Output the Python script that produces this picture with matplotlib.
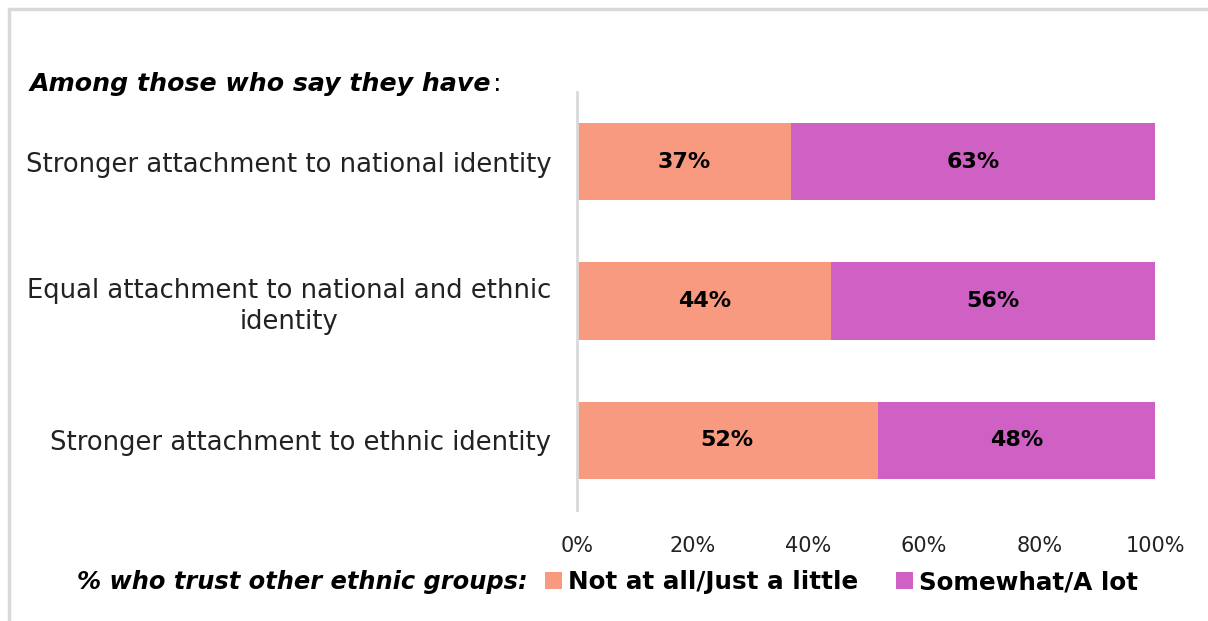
import numpy as np
import matplotlib
matplotlib.use('Agg')
from matplotlib.pyplot import figure
from matplotlib.patches import Rectangle
from matplotlib.ticker import FuncFormatter

# identity groups, top to bottom
groups = ['Stronger attachment to national identity',
          'Equal attachment to national and ethnic\nidentity',
          'Stronger attachment to ethnic identity']
not_at_all = [37, 44, 52]   # Not at all / Just a little
somewhat = [63, 56, 48]     # Somewhat / A lot
series_names = ['Not at all/Just a little', 'Somewhat/A lot']
xticks = [0, 20, 40, 60, 80, 100]

c_low = '#F79A80'
c_high = '#CF61C5'
grey = '#D9D9D9'
font = 'DejaVu Sans'

fg = figure(figsize=(12.08, 6.21), dpi=100)
fg.patch.set_facecolor('white')
# light frame round the chart area
fg.patches.append(Rectangle((9/1208, -0.1), 1.2, 1 - 9/621 + 0.1, transform=fg.transFigure,
                            fill=False, edgecolor=grey, linewidth=2.5))

ax = fg.add_axes([577/1208, 1 - 510/621, 578/1208, 418/621])
y = np.arange(len(groups))
h = 0.555
b1 = ax.barh(y, not_at_all, height=h, color=c_low, label=series_names[0])
b2 = ax.barh(y, somewhat, left=not_at_all, height=h, color=c_high, label=series_names[1])

for bars, vals, starts in ((b1, not_at_all, [0]*3), (b2, somewhat, not_at_all)):
    for yy, v, s in zip(y, vals, starts):
        ax.text(s + v/2, yy, f'{v}%', ha='center', va='center',
                fontsize=16, fontweight='bold', family=font, color='black')

ax.set_ylim(len(groups) - 0.5, -0.5)
ax.set_xlim(0, 100)
ax.set_yticks(y)
ax.set_yticklabels(groups, fontsize=18.6, family=font, color='#222222',
                   linespacing=1.25)
for lbl in ax.get_yticklabels():
    lbl.set_horizontalalignment('right')
    lbl.set_multialignment('center')
ax.set_xticks(xticks)
ax.xaxis.set_major_formatter(FuncFormatter(lambda v, p: f'{v:.0f}%'))
ax.tick_params(axis='x', labelsize=15, colors='#222222', length=0, pad=19)
ax.tick_params(axis='y', length=0, pad=18.5)
for lbl in ax.get_xticklabels():
    lbl.set_family(font)
for side in ('top', 'right', 'bottom'):
    ax.spines[side].set_visible(False)
ax.spines['left'].set_color(grey)
ax.spines['left'].set_linewidth(2)

# heading: bold italic words followed by a plain colon
t = fg.text(30/1208, 1 - 84/621, 'Among those who say they have', fontsize=18.2,
            fontweight='bold', style='italic', family=font, va='center')
fg.canvas.draw()
bb = t.get_window_extent()
fg.text((bb.x1 + 2)/1208, 1 - 84/621, ':', fontsize=18.2, family=font, va='center')

# legend line
fg.text(77/1208, 1 - 582/621, '% who trust other ethnic groups:', fontsize=17.4,
        fontweight='bold', style='italic', family=font, va='center')
leg = fg.legend(handles=[b1, b2], loc='center left', bbox_to_anchor=(545/1208, 1 - 582/621),
                ncol=2, frameon=False, handlelength=0.68, handleheight=0.68,
                handletextpad=0.25, columnspacing=1.55, borderpad=0, borderaxespad=0,
                prop={'family': font, 'weight': 'bold', 'size': 17.7})

fg.savefig('out.png', dpi=100)
